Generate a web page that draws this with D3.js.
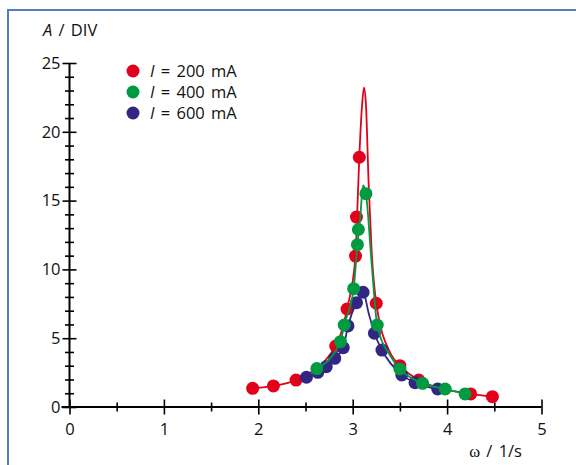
<!DOCTYPE html>
<html>
<head>
<meta charset="utf-8">
<script src="https://cdn.jsdelivr.net/npm/d3@7"></script>
<style>
  body { margin: 0; background: #fff; }
  svg { display: block; font-family: "Open Sans", sans-serif; }
</style>
</head>
<body>
<div id="chart"></div>
<script>
// measured points, omega in 1/s, amplitude A in DIV
var omega200 = [1.94, 2.16, 2.40, 2.82, 2.94, 3.03, 3.04, 3.07, 3.25, 3.50, 3.70, 4.25, 4.48];
var amp200   = [1.36, 1.53, 1.96, 4.43, 7.12, 10.97, 13.8, 18.15, 7.54, 3.0, 1.96, 0.95, 0.75];

var omega400 = [2.62, 2.87, 2.91, 3.01, 3.05, 3.06, 3.14, 3.26, 3.50, 3.74, 3.98, 4.19];
var amp400   = [2.79, 4.75, 5.96, 8.6, 11.8, 12.9, 15.5, 5.96, 2.76, 1.72, 1.31, 0.95];

var omega600 = [2.51, 2.63, 2.72, 2.81, 2.90, 2.95, 3.04, 3.11, 3.23, 3.31, 3.52, 3.66, 3.90];
var amp600   = [2.16, 2.52, 2.93, 3.54, 4.31, 5.89, 7.58, 8.34, 5.36, 4.14, 2.33, 1.77, 1.31];

// drawn curves
var curveOmega200 = [1.94, 2.16, 2.40, 2.82, 2.94, 3.03, 3.05, 3.07, 3.10, 3.12, 3.14, 3.17, 3.20, 3.25, 3.40, 3.50, 3.70, 4.25, 4.48];
var curveAmp200   = [1.36, 1.53, 1.96, 4.43, 7.12, 10.97, 14.5, 18.15, 22.0, 23.2, 22.0, 16.0, 11.4, 7.54, 3.9, 3.0, 1.96, 0.95, 0.75];

var curveOmega400 = [2.62, 2.87, 2.91, 3.01, 3.05, 3.08, 3.11, 3.14, 3.20, 3.26, 3.40, 3.50, 3.74, 3.98, 4.19];
var curveAmp400   = [2.79, 4.75, 5.96, 8.6, 11.8, 13.8, 16.1, 15.5, 10.5, 5.96, 3.7, 2.76, 1.72, 1.31, 0.95];

var curveOmega600 = [2.51, 2.63, 2.72, 2.81, 2.90, 2.95, 3.04, 3.11, 3.17, 3.23, 3.31, 3.52, 3.66, 3.90];
var curveAmp600   = [2.16, 2.52, 2.93, 3.54, 4.31, 5.89, 7.58, 8.34, 6.8, 5.36, 4.14, 2.33, 1.77, 1.31];

var seriesNames = ["200 mA", "400 mA", "600 mA"];
var colors = ["#e2001a", "#009a40", "#312783"];

var xTicks = [0, 1, 2, 3, 4, 5];
var xMinor = [0.5, 1.5, 2.5, 3.5, 4.5];
var yTicks = [0, 5, 10, 15, 20, 25];

var W = 576, H = 465;
var margin = {left: 69.5, top: 63};
var width = 472, height = 344;

var svg = d3.select("#chart").append("svg")
    .attr("width", W)
    .attr("height", H);

// frame (top and left edges of the box)
svg.append("path")
    .attr("d", "M8," + H + "V10H" + W)
    .attr("fill", "none")
    .attr("stroke", "#4f7fbf")
    .attr("stroke-width", 2);

var g = svg.append("g")
    .attr("transform", "translate(" + margin.left + "," + margin.top + ")");

var x = d3.scaleLinear().domain([0, 5]).range([0, width]);
var y = d3.scaleLinear().domain([0, 25]).range([height, 0]);

function zipPts(xs, ys) {
    return xs.map(function(d, i) { return [d, ys[i]]; });
}

var series = [
    {pts: zipPts(omega200, amp200), line: zipPts(curveOmega200, curveAmp200)},
    {pts: zipPts(omega400, amp400), line: zipPts(curveOmega400, curveAmp400)},
    {pts: zipPts(omega600, amp600), line: zipPts(curveOmega600, curveAmp600)}
];

// axes: ticks cross the axis line, so draw each side separately
function styleAxis(sel) {
    sel.select(".domain").remove();
    sel.selectAll("line").attr("stroke", "#000").attr("stroke-width", 1.6);
}

// x axis
g.append("line")
    .attr("x1", -8).attr("x2", width)
    .attr("y1", height).attr("y2", height)
    .attr("stroke", "#000").attr("stroke-width", 2);

g.append("g").attr("transform", "translate(0," + height + ")")
    .call(d3.axisBottom(x).tickValues(xTicks).tickSize(7.5).tickPadding(9).tickFormat(d3.format("d")))
    .call(styleAxis)
    .selectAll("text").attr("font-size", 16.5).attr("fill", "#111").attr("font-family", "Open Sans, sans-serif");
g.append("g").attr("transform", "translate(0," + height + ")")
    .call(d3.axisTop(x).tickValues(xTicks).tickSize(7.5).tickFormat(""))
    .call(styleAxis);
g.append("g").attr("transform", "translate(0," + height + ")")
    .call(d3.axisBottom(x).tickValues(xMinor).tickSize(4.5).tickFormat(""))
    .call(styleAxis);
g.append("g").attr("transform", "translate(0," + height + ")")
    .call(d3.axisTop(x).tickValues(xMinor).tickSize(4.5).tickFormat(""))
    .call(styleAxis);

// y axis
g.append("line")
    .attr("x1", 0).attr("x2", 0)
    .attr("y1", height + 1).attr("y2", 0)
    .attr("stroke", "#000").attr("stroke-width", 2);

g.append("g")
    .call(d3.axisLeft(y).tickValues(yTicks).tickSize(7).tickPadding(2))
    .call(styleAxis)
    .selectAll("text").attr("font-size", 16.5).attr("fill", "#111").attr("font-family", "Open Sans, sans-serif");
g.append("g")
    .call(d3.axisRight(y).tickValues(yTicks).tickSize(7).tickFormat(""))
    .call(styleAxis);
g.append("g")
    .call(d3.axisLeft(y).tickValues(d3.range(1, 25).filter(function(v) { return v % 5; })).tickSize(4.5).tickFormat(""))
    .call(styleAxis);
g.append("g")
    .call(d3.axisRight(y).tickValues(d3.range(1, 25).filter(function(v) { return v % 5; })).tickSize(4.5).tickFormat(""))
    .call(styleAxis);

// curves and points
var line = d3.line()
    .x(function(d) { return x(d[0]); })
    .y(function(d) { return y(d[1]); })
    .curve(d3.curveMonotoneX);

var drawOrder = [0, 2, 1];
drawOrder.forEach(function(k) {
    var s = series[k];
    g.append("path")
        .datum(s.line)
        .attr("d", line)
        .attr("fill", "none")
        .attr("stroke", colors[k])
        .attr("stroke-width", 1.8);
    g.selectAll(".dot" + k)
        .data(s.pts)
        .enter().append("circle")
        .attr("class", "dot" + k)
        .attr("cx", function(d) { return x(d[0]); })
        .attr("cy", function(d) { return y(d[1]); })
        .attr("r", 6.5)
        .attr("fill", colors[k]);
});

// legend
var legend = svg.append("g").attr("transform", "translate(133,71)");
seriesNames.forEach(function(name, i) {
    var row = legend.append("g").attr("transform", "translate(0," + (i * 21) + ")");
    row.append("circle").attr("r", 6.5).attr("fill", colors[i]);
    var t = row.append("text")
        .attr("x", 17).attr("y", 5.5)
        .attr("font-size", 16.5).attr("fill", "#111")
        .attr("word-spacing", 2);
    t.append("tspan").attr("font-style", "italic").text("I");
    t.append("tspan").text(" = " + name);
});

// axis titles
var yt = svg.append("text").attr("x", 43).attr("y", 36).attr("font-size", 16.5).attr("fill", "#111")
    .attr("word-spacing", 2);
yt.append("tspan").attr("font-style", "italic").text("A");
yt.append("tspan").text(" / DIV");

var xt = svg.append("text").attr("x", 522).attr("y", 457).attr("text-anchor", "end").attr("font-size", 16.5).attr("fill", "#111")
    .attr("word-spacing", 2);
xt.append("tspan").attr("font-family", "Liberation Serif, serif").text("ω");
xt.append("tspan").text(" / 1/s");
</script>
</body>
</html>
